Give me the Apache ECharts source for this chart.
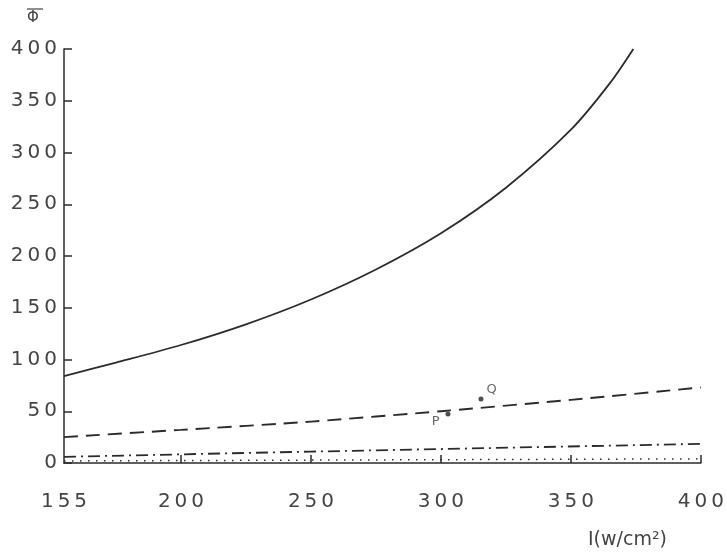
<!DOCTYPE html>
<html>
<head>
<meta charset="utf-8">
<style>
  html, body { margin: 0; padding: 0; background: #fff; }
  #chart { width: 727px; height: 557px; }
</style>
<script src="https://cdn.jsdelivr.net/npm/echarts@6/dist/echarts.min.js"></script>
</head>
<body>
<div id="chart"></div>
<script>
// Intensity I (w/cm^2) and mean Φ for each curve
const solidI   = [155, 175, 200, 225, 250, 275, 300, 325, 350, 365, 374];
const solidPhi = [84, 97, 114, 134, 158, 187, 222, 266, 322, 367, 400];

const dashedI   = [155, 200, 250, 300, 350, 400];
const dashedPhi = [25, 32, 40, 50, 61, 73];

const dashDotI   = [155, 250, 400];
const dashDotPhi = [6, 11, 18.5];

const dottedI   = [155, 400];
const dottedPhi = [2, 4];

// Marked points on the dashed curve
const pointNames = ['P', 'Q'];
const pointI     = [302.7, 315.4];
const pointPhi   = [47.3, 61.8];

const xLabelValues = [155, 200, 250, 300, 350, 400];
const xTickValues  = [200, 250, 300, 350, 400];

const zip = (xs, ys) => xs.map((x, i) => [x, ys[i]]);
const spaced = v => String(v).split('').join('\u2009');

const ink = '#2b2b2b';
const textInk = '#444';
const font = 'DejaVu Sans';

const chart = echarts.init(document.getElementById('chart'));
chart.setOption({
  backgroundColor: '#fff',
  animation: false,
  grid: { left: 64, right: 21, top: 49, bottom: 94 },
  xAxis: {
    type: 'value',
    min: 155,
    max: 400,
    axisLine: { lineStyle: { color: ink, width: 1.5 } },
    axisTick: { inside: true, length: 8, customValues: xTickValues, lineStyle: { color: ink, width: 1.5 } },
    axisLabel: {
      customValues: xLabelValues,
      margin: 29,
      color: textInk,
      fontFamily: font,
      fontSize: 20,
      formatter: v => spaced(v)
    },
    splitLine: { show: false }
  },
  yAxis: {
    type: 'value',
    min: 0,
    max: 400,
    interval: 50,
    axisLine: { show: true, lineStyle: { color: ink, width: 1.5 } },
    axisTick: { show: true, inside: true, length: 8, lineStyle: { color: ink, width: 1.5 } },
    axisLabel: {
      margin: 7,
      color: textInk,
      fontFamily: font,
      fontSize: 20,
      formatter: v => spaced(v)
    },
    splitLine: { show: false }
  },
  graphic: [
    { type: 'text', left: 27, top: 11, style: { text: 'Φ', fill: textInk, font: '15px "DejaVu Sans"' } },
    { type: 'line', shape: { x1: 27, y1: 9, x2: 43, y2: 9 }, style: { stroke: textInk, lineWidth: 1.2 } },
    { type: 'text', left: 588, top: 531, style: { text: 'I(w/cm²)', fill: textInk, font: '19px "DejaVu Sans"' } }
  ],
  series: [
    {
      type: 'line', data: zip(solidI, solidPhi), smooth: 0.3, symbol: 'none',
      lineStyle: { color: ink, width: 1.8 }
    },
    {
      type: 'line', data: zip(dashedI, dashedPhi), smooth: 0.2, symbol: 'none',
      lineStyle: { color: ink, width: 1.9, type: [14, 8] }
    },
    {
      type: 'line', data: zip(dashDotI, dashDotPhi), symbol: 'none',
      lineStyle: { color: ink, width: 1.8, type: [12, 5, 2, 5] }
    },
    {
      type: 'line', data: zip(dottedI, dottedPhi), symbol: 'none',
      lineStyle: { color: ink, width: 1.5, type: [1.5, 6.5] }
    },
    {
      type: 'scatter',
      symbolSize: 5,
      itemStyle: { color: '#222' },
      data: pointNames.map((n, i) => ({
        value: [pointI[i], pointPhi[i]],
        label: {
          show: true,
          formatter: n,
          position: n === 'P' ? 'left' : 'right',
          offset: n === 'P' ? [0, 8] : [0, -9],
          distance: n === 'P' ? 6 : 3,
          color: textInk,
          fontFamily: font,
          fontSize: 13
        }
      }))
    }
  ]
});
</script>
</body>
</html>
